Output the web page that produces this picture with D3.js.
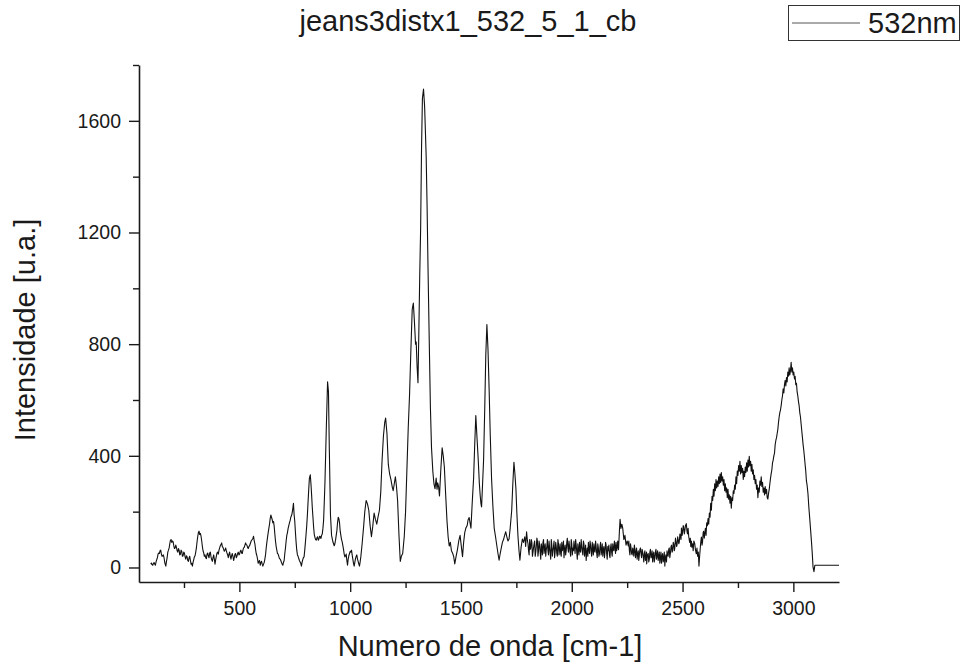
<!DOCTYPE html>
<html><head><meta charset="utf-8">
<script src="https://cdn.jsdelivr.net/npm/d3@7"></script>
<style>
body{margin:0;background:#fff}
svg{display:block}
text{font-family:"Liberation Sans",Arial,sans-serif;fill:#1a1a1a}
</style>
</head><body>
<svg id="c" width="962" height="666"></svg>
<script>
const chartTitle = "jeans3distx1_532_5_1_cb";
const seriesName = "532nm";
const xLabel = "Numero de onda [cm-1]";
const yLabel = "Intensidade [u.a.]";
const xMajorTicks = [500, 1000, 1500, 2000, 2500, 3000];
const xMinorTicks = [250, 750, 1250, 1750, 2250, 2750];
const yMajorTicks = [0, 400, 800, 1200, 1600];
const yMinorTicks = [200, 600, 1000, 1400, 1800];

// [wavenumber cm-1, intensity u.a.]
const spectrum532 = [
[100,12],[106,10],[112,14],[118,12],[124,20],[130,35],[136,52],[142,60],[148,48],[154,42],[160,35],[164,15],[168,5],[174,35],[180,62],[186,85],[192,100],[198,95],[204,78],[210,70],[216,72],[222,55],[228,62],[234,48],[240,58],[246,42],[252,52],[258,30],[264,38],[270,22],[276,40],[282,12],[288,5],[294,28],[300,42],[306,70],[312,110],[318,130],[324,122],[330,95],[336,60],[342,40],[348,35],[354,48],[360,42],[366,52],[372,38],[378,22],[384,45],[390,12],[396,40],[402,55],[408,62],[414,78],[420,88],[426,72],[432,58],[438,70],[444,52],[450,35],[456,55],[462,30],[468,50],[474,25],[480,48],[486,35],[492,50],[498,45],[504,58],[510,52],[516,62],[522,72],[528,88],[534,80],[540,68],[546,78],[552,92],[558,100],[564,112],[570,85],[576,50],[582,30],[588,22],[594,8],[600,22],[606,5],[612,18],[618,45],[624,90],[630,125],[636,155],[642,188],[648,172],[654,165],[660,120],[666,75],[672,50],[678,40],[684,30],[690,18],[696,8],[702,25],[708,70],[714,115],[720,140],[726,160],[732,180],[738,195],[744,230],[750,165],[756,90],[762,45],[768,32],[774,20],[780,5],[786,28],[792,38],[798,90],[804,150],[810,235],[816,320],[820,332],[826,260],[832,180],[838,118],[844,100],[850,106],[856,98],[862,112],[868,104],[874,120],[880,168],[886,300],[892,490],[898,665],[902,630],[906,420],[911,190],[916,115],[922,92],[928,78],[934,98],[940,132],[946,180],[952,160],[958,115],[964,92],[970,65],[976,38],[982,48],[988,8],[994,42],[1000,58],[1006,62],[1012,30],[1018,5],[1024,32],[1030,45],[1036,22],[1042,5],[1048,38],[1054,85],[1060,140],[1066,200],[1072,240],[1078,228],[1084,205],[1090,150],[1096,110],[1102,148],[1108,195],[1114,172],[1120,155],[1126,182],[1132,205],[1138,270],[1144,385],[1150,470],[1156,520],[1160,535],[1166,480],[1172,370],[1178,335],[1184,315],[1190,288],[1194,275],[1199,300],[1204,325],[1209,290],[1214,240],[1220,120],[1226,22],[1231,40],[1237,50],[1244,110],[1250,200],[1256,350],[1262,500],[1268,620],[1274,780],[1280,925],[1285,947],[1290,880],[1295,800],[1298,808],[1302,720],[1306,662],[1310,850],[1314,1050],[1318,1215],[1322,1500],[1326,1680],[1331,1714],[1336,1650],[1340,1550],[1343,1471],[1347,1300],[1351,1087],[1356,850],[1362,576],[1367,430],[1373,345],[1378,300],[1383,282],[1388,320],[1392,280],[1395,303],[1399,290],[1403,256],[1409,350],[1415,429],[1420,400],[1425,360],[1431,260],[1437,166],[1442,110],[1447,77],[1452,90],[1457,60],[1462,52],[1467,40],[1472,13],[1478,40],[1484,64],[1490,95],[1496,115],[1501,80],[1507,39],[1512,90],[1517,125],[1522,141],[1528,150],[1532,170],[1537,179],[1541,160],[1545,141],[1550,220],[1557,320],[1562,440],[1567,544],[1572,470],[1578,384],[1583,300],[1587,256],[1590,230],[1593,217],[1597,290],[1602,384],[1607,560],[1612,760],[1617,870],[1622,780],[1627,640],[1632,480],[1638,320],[1644,220],[1650,141],[1656,110],[1662,77],[1667,50],[1672,26],[1677,50],[1682,70],[1687,90],[1692,100],[1697,115],[1702,128],[1707,110],[1712,95],[1717,102],[1722,140],[1729,205],[1734,300],[1739,377],[1743,340],[1748,282],[1752,200],[1757,115],[1762,60],[1766,26],[1771,70],[1777,102],[1782,90],[1788,110],[1792,75],[1796,128],[1800,95],
[1805,60],[1810,100],[1815,70],[1820,90],[1825,55],[1830,85],[1835,40],[1840,75],[1845,95],[1850,60],[1855,80],[1860,30],[1865,70],[1870,90],[1875,50],[1880,85],[1885,65],[1890,100],[1895,45],[1900,70],[1905,30],[1910,80],[1915,60],[1920,95],[1925,55],[1930,75],[1935,40],[1940,85],[1945,65],[1950,50],[1955,90],[1960,70],[1965,35],[1970,80],[1975,60],[1980,105],[1985,55],[1990,75],[1995,40],[2000,85],[2005,70],[2010,95],[2015,50],[2020,80],[2025,30],[2030,65],[2035,90],[2040,55],[2045,75],[2050,45],[2055,85],[2060,60],[2065,25],[2070,70],[2075,90],[2080,50],[2085,80],[2090,40],[2095,65],[2100,85],[2105,55],[2110,75],[2115,35],[2120,70],[2125,50],[2130,90],[2135,60],[2140,40],[2145,75],[2150,55],[2155,80],[2160,30],[2165,60],[2170,45],[2175,70],[2180,55],[2185,85],[2190,60],[2195,75],[2200,90],[2205,70],[2211,64],[2215,130],[2218,173],[2222,140],[2226,155],[2230,141],[2235,100],[2240,115],[2245,80],[2250,95],[2255,77],[2260,60],[2265,85],[2270,50],[2275,70],[2280,40],[2285,65],[2290,55],[2295,30],[2300,60],[2305,45],[2310,70],[2315,35],[2320,55],[2325,20],[2330,60],[2335,40],[2338,13],[2345,50],[2350,30],[2355,65],[2360,40],[2365,20],[2370,55],[2375,35],[2380,65],[2385,45],[2390,25],[2395,55],[2400,35],[2405,15],[2410,50],[2415,30],[2420,5],[2425,45],[2430,60],[2435,40],[2440,70],[2445,50],[2448,75],[2450,80],[2453,55],[2455,60],[2458,90],[2460,85],[2463,60],[2465,70],[2468,105],[2470,95],[2473,75],[2475,80],[2478,110],[2480,100],[2483,85],[2485,90],[2488,120],[2490,115],[2493,100],[2495,141],[2498,115],[2500,125],[2503,150],[2505,145],[2508,120],[2510,130],[2513,150],[2517,157],[2520,130],[2522,120],[2525,140],[2528,110],[2532,90],[2535,105],[2537,75],[2540,95],[2542,73],[2545,85],[2548,60],[2551,95],[2555,85],[2558,65],[2562,49],[2565,70],[2568,40],[2571,55],[2574,5],[2577,40],[2579,60],[2582,90],[2585,109],[2588,80],[2590,90],[2593,125],[2595,130],[2598,105],
[2600,121],[2603,140],[2606,115],[2609,160],[2612,150],[2615,175],[2618,155],[2621,195],[2624,180],[2627,230],[2630,205],[2633,255],[2636,240],[2639,280],[2642,255],[2645,300],[2648,275],[2651,315],[2654,285],[2657,310],[2660,290],[2663,325],[2666,300],[2669,335],[2672,305],[2675,340],[2678,310],[2681,325],[2684,295],[2687,315],[2690,275],[2693,300],[2696,270],[2699,285],[2702,250],[2705,280],[2708,245],[2711,260],[2714,230],[2717,255],[2720,212],[2723,250],[2726,240],[2729,275],[2732,265],[2735,295],[2738,280],[2741,325],[2744,300],[2747,345],[2750,330],[2753,365],[2756,345],[2759,380],[2762,335],[2765,365],[2768,340],[2771,355],[2774,315],[2777,345],[2780,325],[2783,360],[2786,340],[2789,375],[2792,345],[2795,385],[2798,360],[2801,398],[2804,365],[2807,380],[2810,345],[2813,370],[2816,335],[2819,350],[2822,315],[2825,330],[2828,300],[2831,315],[2834,280],[2837,295],[2840,250],[2843,285],[2846,270],[2849,310],[2852,295],[2855,325],[2858,290],[2861,305],[2864,270],[2867,285],[2870,260],[2873,290],[2876,265],[2879,280],[2882,250],[2885,245],[2888,265],[2891,280],[2894,300],[2897,320],[2900,336],[2903,350],[2906,375],[2909,385],[2912,400],[2915,410],[2918,440],[2921,455],[2924,465],[2927,480],[2930,495],[2933,520],[2936,540],[2939,555],[2942,565],[2945,580],[2948,600],[2951,615],[2954,640],[2957,625],[2960,655],[2963,670],[2966,650],[2969,680],[2972,665],[2975,700],[2978,685],[2981,715],[2984,690],[2987,705],[2990,735],[2993,700],[2996,715],[2999,690],[3002,700],[3005,675],[3008,685],[3011,655],[3014,660],[3017,630],[3020,615],[3023,595],[3026,580],[3029,555],[3032,540],[3035,515],[3038,490],[3041,465],[3044,440],[3047,420],[3050,396],[3053,370],[3056,345],[3059,310],[3062,295],[3066,264],[3070,215],[3074,175],[3078,133],[3082,90],[3085,55],[3089,0],[3093,-15],[3097,8],[3206,8]
];

// additional in-between readings of the noisy stretches
const spectrum532Noise = [
[103,16],[109,8],[115,18],[121,8],[127,28],[133,48],[139,50],[145,62],[151,40],[157,45],[171,22],[177,55],[183,70],[189,98],[195,90],[201,92],[207,68],[213,80],[219,60],[225,68],[231,45],[237,62],[243,40],[249,55],[255,38],[261,42],[267,25],[273,35],[279,25],[285,15],[291,18],[297,38],[303,55],[309,92],[315,125],[321,118],[327,112],[333,75],[339,52],[345,45],[351,32],[357,52],[363,35],[369,55],[375,28],[381,35],[387,30],[393,28],[399,52],[405,48],[411,70],[417,82],[423,75],[429,65],[435,62],[441,60],[447,45],[453,48],[459,40],[465,42],[471,40],[477,35],[483,50],[489,40],[495,55],[501,48],[507,62],[513,50],[519,70],[525,80],[531,82],[537,72],[543,75],[549,85],[555,98],[561,104],[567,95],[573,65],[579,42],[585,15],[591,25],[597,18],[603,12],[609,12],[615,30],[621,70],[627,108],[633,140],[639,175],[645,180],[651,160],[657,148],[663,95],[669,62],[675,48],[681,32],[687,25],[693,12],[699,18],[705,50],[711,95],[717,125],[723,150],[729,168],[735,185],[741,210],[747,190],[753,125],[759,62],[765,40],[771,25],[777,15],[783,18],[789,35],[795,62],[801,120],[807,190],[813,280],[823,300],[829,215],[835,145],[841,108],[847,98],[853,110],[859,102],[865,110],[871,115],[877,140],[883,230],[925,85],[931,85],[937,115],[943,160],[949,175],[955,130],[961,100],[967,78],[973,48],[979,42],[985,25],[991,30],[997,50],[1003,55],[1009,45],[1015,15],[1021,18],[1027,40],[1033,30],[1039,12],[1045,20],
[1802.5,85],[1807.5,45],[1812.5,65],[1817.5,100],[1822.5,40],[1827.5,70],[1832.5,95],[1837.5,55],[1842.5,105],[1847.5,40],[1852.5,95],[1857.5,55],[1862.5,85],[1867.5,45],[1872.5,100],[1877.5,70],[1882.5,40],[1887.5,75],[1892.5,60],[1897.5,95],[1902.5,50],[1907.5,100],[1912.5,40],[1917.5,75],[1922.5,35],[1927.5,90],[1932.5,50],[1937.5,100],[1942.5,45],[1947.5,85],[1952.5,40],[1957.5,60],[1962.5,95],[1967.5,65],[1972.5,45],[1977.5,90],[1982.5,70],[1987.5,95],[1992.5,55],[1997.5,100],[2002.5,45],[2007.5,60],[2012.5,70],[2017.5,100],[2022.5,55],[2027.5,85],[2032.5,45],[2037.5,60],[2042.5,100],[2047.5,60],[2052.5,95],[2057.5,40],[2062.5,80],[2067.5,55],[2072.5,40],[2077.5,65],[2082.5,95],[2087.5,55],[2092.5,90],[2097.5,45],[2102.5,60],[2107.5,95],[2112.5,50],[2117.5,85],[2122.5,40],[2127.5,75],[2132.5,45],[2137.5,85],[2142.5,65],[2147.5,35],[2152.5,90],[2157.5,50],[2162.5,75],[2167.5,80],[2172.5,35],[2177.5,85],[2182.5,40],[2187.5,65],[2192.5,95],[2197.5,50],[2202.5,60],[2207.5,95],
[2257.5,95],[2262.5,45],[2267.5,70],[2272.5,45],[2277.5,60],[2282.5,80],[2287.5,35],[2292.5,70],[2297.5,50],[2302.5,25],[2307.5,65],[2312.5,50],[2317.5,65],[2322.5,40],[2327.5,50],[2332.5,25],[2337.5,55],[2341.5,45],[2347.5,20],[2352.5,55],[2357.5,35],[2362.5,60],[2367.5,45],[2372.5,20],[2377.5,55],[2382.5,30],[2387.5,60],[2392.5,40],[2397.5,15],[2402.5,55],[2407.5,40],[2412.5,20],[2417.5,55],[2422.5,35],[2427.5,20],[2432.5,45],[2437.5,65],[2442.5,35]
];

const allPoints = d3.sort(spectrum532.concat(spectrum532Noise), d => d[0]);

const svg = d3.select("#c");
const x = d3.scaleLinear().domain([47, 3206]).range([139, 839]);
const y = d3.scaleLinear().domain([-52, 1800]).range([582, 65]);

// data line
svg.append("path")
  .datum(allPoints)
  .attr("fill", "none")
  .attr("stroke", "#111")
  .attr("stroke-width", 1.1)
  .attr("stroke-linejoin", "round")
  .attr("d", d3.line().x(d => x(d[0])).y(d => y(d[1])));

function styleAxis(g) {
  g.attr("font-family", null).attr("font-size", null);
  g.selectAll("path.domain").attr("stroke", "#1a1a1a").attr("stroke-width", 1.6);
  g.selectAll(".tick line").attr("stroke", "#1a1a1a").attr("stroke-width", 1.4);
  g.selectAll(".tick text").style("font-size", "19.5px").attr("fill", "#1a1a1a");
}
const fmt = d3.format("d");

// x axis
const gx = svg.append("g").attr("transform", "translate(0,582)")
  .call(d3.axisBottom(x).tickValues(xMajorTicks).tickFormat(fmt).tickSize(10).tickPadding(9).tickSizeOuter(0));
styleAxis(gx);
const gxm = svg.append("g").attr("transform", "translate(0,582)")
  .call(d3.axisBottom(x).tickValues(xMinorTicks).tickSize(6).tickFormat(""));
gxm.select("path.domain").remove();
styleAxis(gxm);

// y axis
const gy = svg.append("g").attr("transform", "translate(139,0)")
  .call(d3.axisLeft(y).tickValues(yMajorTicks).tickFormat(fmt).tickSize(10).tickPadding(8).tickSizeOuter(0));
styleAxis(gy);
const gym = svg.append("g").attr("transform", "translate(139,0)")
  .call(d3.axisLeft(y).tickValues(yMinorTicks).tickSize(6).tickFormat(""));
gym.select("path.domain").remove();
styleAxis(gym);

// titles
svg.append("text").attr("x", 468).attr("y", 31).attr("text-anchor", "middle")
  .style("font-size", "29px").text(chartTitle);
svg.append("text").attr("x", 490).attr("y", 656).attr("text-anchor", "middle")
  .style("font-size", "29px").text(xLabel);
svg.append("text").attr("transform", "translate(35,330) rotate(-90)").attr("text-anchor", "middle")
  .style("font-size", "29px").text(yLabel);

// legend
const lg = svg.append("g");
lg.append("rect").attr("x", 788.5).attr("y", 5.5).attr("width", 171).attr("height", 35)
  .attr("fill", "none").attr("stroke", "#333").attr("stroke-width", 1);
lg.append("line").attr("x1", 792).attr("x2", 860).attr("y1", 23).attr("y2", 23)
  .attr("stroke", "#555").attr("stroke-width", 1);
lg.append("text").attr("x", 868).attr("y", 33).style("font-size", "29px").text(seriesName);
</script>
</body></html>
